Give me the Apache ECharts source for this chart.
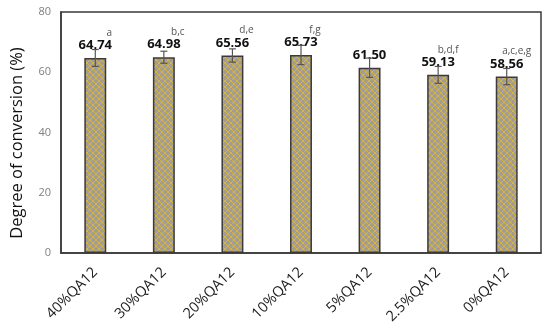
<!DOCTYPE html>
<html><head><meta charset="utf-8">
<script src="https://cdn.jsdelivr.net/npm/echarts@6/dist/echarts.min.js"></script>
<style>html,body{margin:0;padding:0;background:#fff}#c{width:550px;height:333px}</style>
</head><body><div id="c"></div>
<script>
const categories = ['40%QA12','30%QA12','20%QA12','10%QA12','5%QA12','2.5%QA12','0%QA12'];
const values = [64.74, 64.98, 65.56, 65.73, 61.50, 59.13, 58.56];
const errors = [2.8, 2.0, 2.2, 3.2, 3.2, 2.8, 2.7];
const letters = ['a','b,c','d,e','f,g','','b,d,f','a,c,e,g'];
const yTicks = [0, 20, 40, 60, 80];

function makePattern(){
  const c = document.createElement('canvas');
  c.width = 6; c.height = 6;
  const g = c.getContext('2d');
  g.fillStyle = '#a19c94';
  g.fillRect(0,0,6,6);
  g.strokeStyle = '#d9b43c';
  g.lineWidth = 1;
  g.beginPath();
  g.moveTo(0,0); g.lineTo(6,6);
  g.moveTo(6,0); g.lineTo(0,6);
  g.moveTo(-3,3); g.lineTo(3,9);
  g.moveTo(3,-3); g.lineTo(9,3);
  g.moveTo(3,-3); g.lineTo(-3,3);
  g.moveTo(9,3); g.lineTo(3,9);
  g.stroke();
  return c;
}

const chart = echarts.init(document.getElementById('c'), null, {renderer:'canvas'});
chart.setOption({
  animation:false,
  grid:{left:61, right:9, top:12, bottom:80, show:true, borderColor:'#3a3a3a', borderWidth:1.5, containLabel:false},
  xAxis:{type:'category', data:categories,
    axisLine:{show:true, lineStyle:{color:'#3a3a3a', width:1.5}},
    axisTick:{show:false},
    axisLabel:{rotate:45, margin:17, color:'#1a1a1a', fontSize:14.5, fontFamily:'Open Sans'}},
  yAxis:{type:'value', min:yTicks[0], max:yTicks[yTicks.length-1], interval:20,
    axisLine:{show:true, lineStyle:{color:'#3a3a3a', width:1.5}},
    axisTick:{show:false}, splitLine:{show:false},
    axisLabel:{margin:10, color:'#808080', fontSize:11, fontFamily:'Open Sans'}},
  graphic:[{type:'text', x:17, y:143, rotation:Math.PI/2, style:{text:'Degree of conversion (%)', fill:'#111', font:'16.5px "Open Sans"', align:'center', verticalAlign:'middle'}}],
  series:[
    {type:'bar', data:values, barWidth:'32%',
      itemStyle:{color:{image:makePattern(), repeat:'repeat'}, borderColor:'#3a3a3a', borderWidth:1.5},
      label:{show:true, position:'top', distance:6, formatter:p=>p.value.toFixed(2), fontWeight:'bold', fontSize:13, color:'#111', fontFamily:'Open Sans'}},
    {type:'custom', data:values.map((v,i)=>[i,v,errors[i]]), z:5,
      renderItem:function(params, api){
        const i = api.value(0), v = api.value(1), e = api.value(2);
        const hi = api.coord([i, v+e]), lo = api.coord([i, v-e]), top = api.coord([i, v]);
        const w = 3.5;
        const st = {stroke:'#555', lineWidth:1.2};
        const children = [
          {type:'line', shape:{x1:hi[0], y1:hi[1], x2:lo[0], y2:lo[1]}, style:st},
          {type:'line', shape:{x1:hi[0]-w, y1:hi[1], x2:hi[0]+w, y2:hi[1]}, style:st},
          {type:'line', shape:{x1:lo[0]-w, y1:lo[1], x2:lo[0]+w, y2:lo[1]}, style:st}
        ];
        const L = letters[i];
        if (L) {
          const dx = L.length > 4 ? 10 : 14;
          children.push({type:'text', x:top[0]+dx, y:top[1]-25, style:{text:L, fill:'#555', font:'10px "Open Sans"', align:'center', verticalAlign:'middle'}});
        }
        return {type:'group', children};
      }}
  ]
});
</script></body></html>
